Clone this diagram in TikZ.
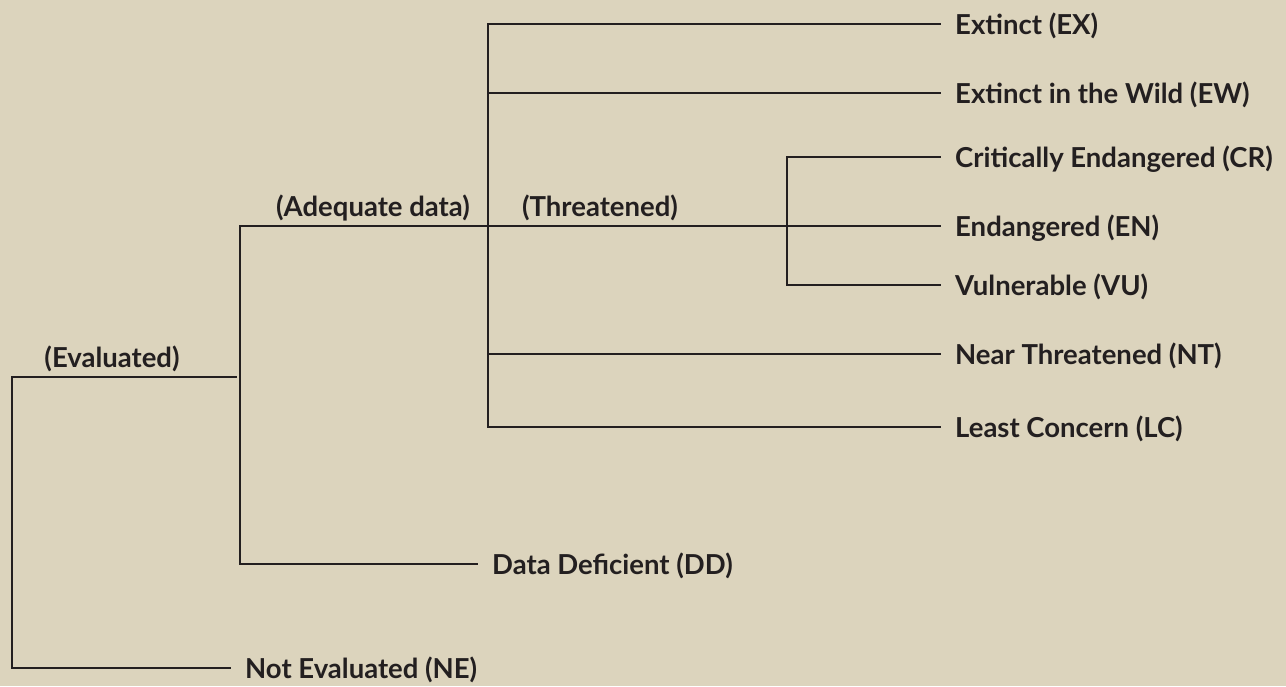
\documentclass[tikz,border=0pt]{standalone}
\usepackage{fontspec}
\setmainfont{Lato}
\definecolor{bgc}{HTML}{DCD4BD}
\definecolor{ink}{HTML}{231F20}
\tikzset{
  lbl/.style={font=\fontsize{27.5}{30}\selectfont\bfseries, text=ink, inner sep=0pt, anchor=base west},
  grp/.style={font=\fontsize{27.5}{30}\selectfont\bfseries, text=ink, inner sep=0pt, anchor=base},
  br/.style={draw=ink, line width=1.6pt, line cap=rect},
  lf/.style={draw=ink, line width=1.6pt, shorten >=14pt}
}
\begin{document}
\begin{tikzpicture}[x=1pt,y=-1pt]
\fill[bgc] (0,0) rectangle (1286,686);
\useasboundingbox (0,0) rectangle (1286,686);
% junction coordinates
\coordinate (r0) at (12,377);
\coordinate (r1) at (12,668);
\coordinate (e0) at (240,226);
\coordinate (e1) at (240,564);
\coordinate (a0) at (488,24);
\coordinate (a1) at (488,93);
\coordinate (a2) at (488,226);
\coordinate (a3) at (488,354);
\coordinate (a4) at (488,427);
\coordinate (t0) at (787,157);
\coordinate (t1) at (787,285);
% labels
\node[grp] (ev) at (112,367) {(Evaluated)};
\node[grp] (ad) at (373,216) {(Adequate data)};
\node[grp] (th) at (600,216) {(Threatened)};
\node[lbl] (ne) at (245,678) {Not Evaluated (NE)};
\node[lbl] (dd) at (492,574) {Data Deficient (DD)};
\node[lbl] (ex) at (955,34) {Extinct (EX)};
\node[lbl] (ew) at (955,103) {Extinct in the Wild (EW)};
\node[lbl] (cr) at (955,167) {Critically Endangered (CR)};
\node[lbl] (en) at (955,236) {Endangered (EN)};
\node[lbl] (vu) at (955,295) {Vulnerable (VU)};
\node[lbl] (nt) at (955,364) {Near Threatened (NT)};
\node[lbl] (lc) at (955,437) {Least Concern (LC)};
% connectors
\draw[br] (r0) -- (r1);
\draw[br] (r0) -- (236,377) coordinate (evend);
\draw[lf] (r1) -- (r1 -| ne.west);
\draw[br] (e0) -- (e1);
\draw[lf] (e1) -- (e1 -| dd.west);
\draw[br] (a0) -- (a4);
\draw[br] (t0) -- (t1);
\draw[lf] (e0) -- (e0 -| en.west);
\draw[lf] (a0) -- (a0 -| ex.west);
\draw[lf] (a1) -- (a1 -| ew.west);
\draw[lf] (a3) -- (a3 -| nt.west);
\draw[lf] (a4) -- (a4 -| lc.west);
\draw[lf] (t0) -- (t0 -| cr.west);
\draw[lf] (t1) -- (t1 -| vu.west);
\end{tikzpicture}
\end{document}
